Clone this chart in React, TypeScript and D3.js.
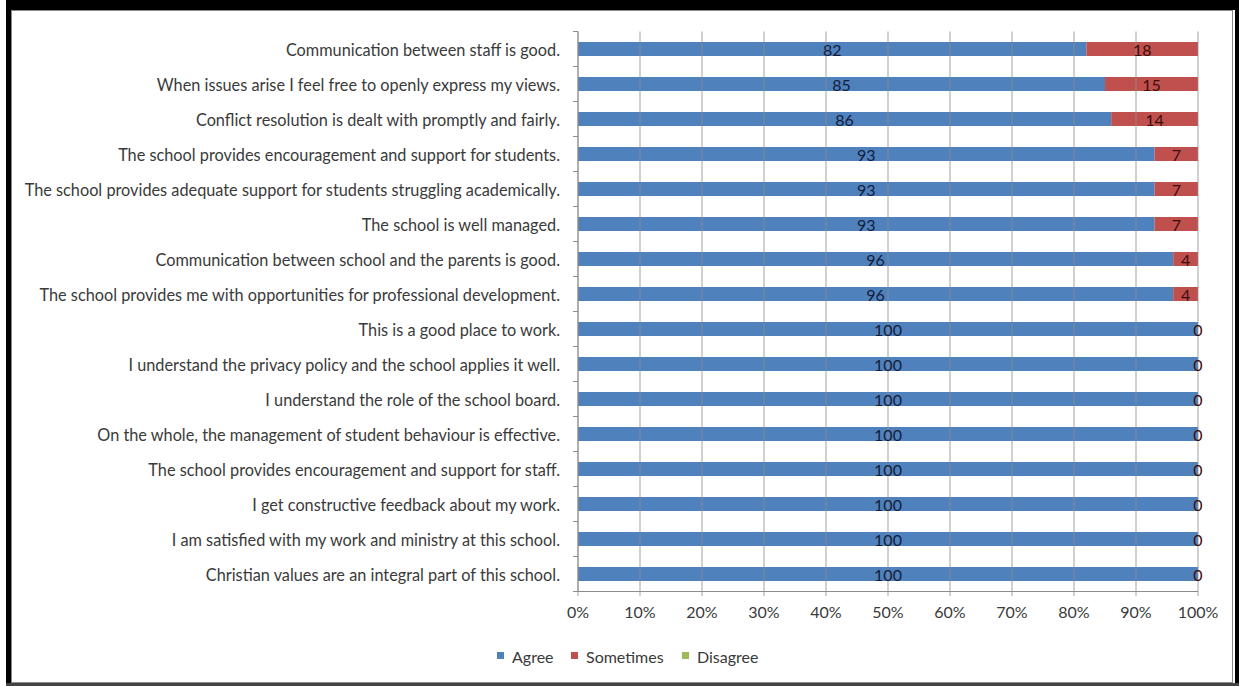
import React from "react";
import * as d3 from "d3";

const categories = [
  "Communication between staff is good.",
  "When issues arise I feel free to openly express my views.",
  "Conflict resolution is dealt with promptly and fairly.",
  "The school provides encouragement and support for students.",
  "The school provides adequate support for students struggling academically.",
  "The school is well managed.",
  "Communication between school and the parents is good.",
  "The school provides me with opportunities for professional development.",
  "This is a good place to work.",
  "I understand the privacy policy and the school applies it well.",
  "I understand the role of the school board.",
  "On the whole, the management of student behaviour is effective.",
  "The school provides encouragement and support for staff.",
  "I get constructive feedback about my work.",
  "I am satisfied with my work and ministry at this school.",
  "Christian values are an integral part of this school.",
];
const agree = [82, 85, 86, 93, 93, 93, 96, 96, 100, 100, 100, 100, 100, 100, 100, 100];
const sometimes = [18, 15, 14, 7, 7, 7, 4, 4, 0, 0, 0, 0, 0, 0, 0, 0];
const disagree = [0, 0, 0, 0, 0, 0, 0, 0, 0, 0, 0, 0, 0, 0, 0, 0];
const seriesNames = ["Agree", "Sometimes", "Disagree"];
const seriesColors = ["#4F81BD", "#C0504D", "#9BBB59"];
const xTicks = [0, 10, 20, 30, 40, 50, 60, 70, 80, 90, 100];

const W = 1239;
const H = 686;
const FONT = "Lato, 'Open Sans', sans-serif";

export default function App() {
  const x = d3.scaleLinear().domain([0, 100]).range([578, 1198]);
  const yOuter = d3.scaleBand().domain(categories).range([31.5, 591.5]);
  const rows = categories.map((c, i) => ({ c, vals: [agree[i], sometimes[i], disagree[i]] }));
  const stack = d3.stack<any>().keys(["0", "1", "2"]).value((d: any, k: string) => d.vals[+k]);
  const stacked = stack(rows as any);
  const legendItems = [
    { x: 497, name: seriesNames[0], color: seriesColors[0] },
    { x: 571, name: seriesNames[1], color: seriesColors[1] },
    { x: 682, name: seriesNames[2], color: seriesColors[2] },
  ];
  const bh = 14;
  const cyOf = (i: number) => (yOuter(categories[i]) as number) + yOuter.bandwidth() / 2;
  return (
    <svg width={W} height={H} style={{ position: "absolute", left: 0, top: 0, background: "#fff" }} fontFamily={FONT}>
      <rect x={0} y={0} width={W} height={H} fill="#fff" />
      {/* frame */}
      <rect x={6} y={0} width={W - 6} height={10} fill="#000" />
      <rect x={6} y={0} width={5} height={H} fill="#000" />
      <rect x={1235} y={0} width={4} height={H} fill="#000" />
      <rect x={6} y={683} width={W - 6} height={3} fill="#444" />
      <rect x={11.5} y={10.5} width={1221} height={672} fill="none" stroke="#8a8a8a" strokeWidth={1} />

      {/* category labels */}
      {categories.map((c, i) => (
        <text key={c} x={560} y={cyOf(i)} textAnchor="end" dominantBaseline="central" fontSize={16.3} fill="#3a3a3a">
          {c}
        </text>
      ))}

      {/* bars */}
      {stacked.map((s, si) => (
        <g key={si} fill={seriesColors[si]}>
          {s.map((d, i) => {
            const w = x(d[1]) - x(d[0]);
            if (w <= 0) return null;
            return <rect key={i} x={x(d[0])} y={cyOf(i) - bh / 2} width={w} height={bh} />;
          })}
        </g>
      ))}

      {/* gridlines */}
      {xTicks.map((t) => (
        <line key={t} x1={x(t)} x2={x(t)} y1={31.5} y2={596} stroke="#8c8c8c" strokeOpacity={0.8} strokeWidth={1} />
      ))}
      {/* axes */}
      <line x1={578} x2={578} y1={31.5} y2={591.5} stroke="#8c8c8c" />
      <line x1={578} x2={1198} y1={591.5} y2={591.5} stroke="#8c8c8c" />
      {categories.map((c) => (
        <line key={"t" + c} x1={573} x2={578} y1={yOuter(c) as number} y2={yOuter(c) as number} stroke="#8c8c8c" />
      ))}
      <line x1={573} x2={578} y1={591.5} y2={591.5} stroke="#8c8c8c" />
      {xTicks.map((t) => (
        <text key={"l" + t} x={x(t)} y={618} textAnchor="middle" fontSize={16} fill="#3a3a3a">
          {t + "%"}
        </text>
      ))}

      {/* data labels */}
      {stacked.slice(0, 2).map((s, si) => (
        <g key={"dl" + si}>
          {s.map((d, i) => {
            const v = d[1] - d[0];
            return (
              <text key={i} x={x((d[0] + d[1]) / 2)} y={cyOf(i) + 0.5} textAnchor="middle" dominantBaseline="central" fontSize={16} fill={si === 0 ? "#13203a" : "#3d0c0c"}>
                {v}
              </text>
            );
          })}
        </g>
      ))}

      {/* legend */}
      {legendItems.map((l) => (
        <g key={l.name}>
          <rect x={l.x} y={652} width={7} height={7} fill={l.color} />
          <text x={l.x + 15} y={656} dominantBaseline="central" fontSize={16} fill="#3a3a3a">
            {l.name}
          </text>
        </g>
      ))}
    </svg>
  );
}
